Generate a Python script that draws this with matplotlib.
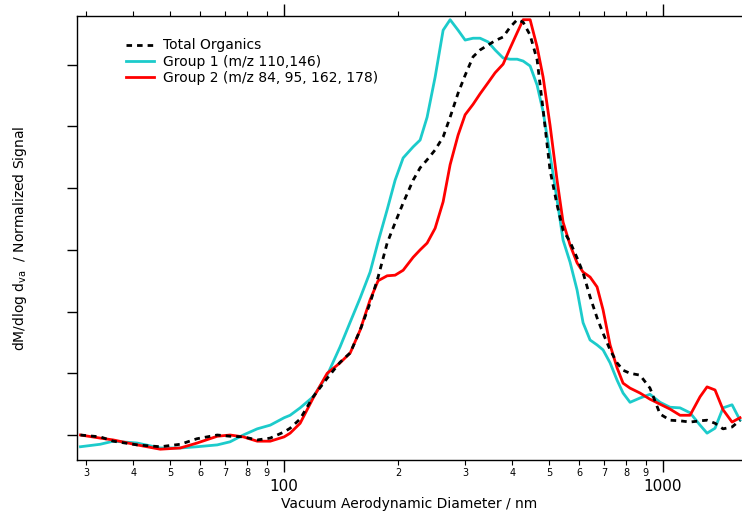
import numpy as np
import matplotlib
matplotlib.use('Agg')
import matplotlib.pyplot as plt
from matplotlib.ticker import LogLocator, FuncFormatter, NullFormatter


# Vacuum aerodynamic diameter bins (nm)
diameter = [29.0, 32.7, 35.4, 40.9, 47.1, 53.2, 58.9, 66.6, 72.0, 78.0,
            84.9, 91.9, 100.0, 103.7, 110.2, 119.3, 129.9, 140.5, 149.4, 158.7,
            168.6, 177.0, 187.0, 196.3, 206.1, 219.0, 228.5, 238.4, 250.3, 262.8,
            274.2, 287.8, 300.4, 315.3, 329.0, 345.4, 360.4, 378.4, 394.9, 412.1,
            427.4, 445.9, 465.2, 482.5, 503.3, 525.2, 544.7, 568.4, 593.1, 615.1,
            641.8, 669.7, 694.5, 724.8, 756.2, 784.4, 818.3, 869.6, 923.9, 982.0,
            1043.5, 1108.9, 1178.5, 1252.4, 1306.8, 1371.8, 1440.1, 1521.1, 1597.0]

# Normalized signals
total_org = [0.00, -0.03, -0.10, -0.16, -0.19, -0.15, -0.06, 0.00, -0.02, -0.03,
             -0.08, -0.05, 0.05, 0.11, 0.26, 0.62, 0.92, 1.18, 1.33, 1.70,
             2.14, 2.56, 3.11, 3.44, 3.76, 4.13, 4.33, 4.46, 4.62, 4.83,
             5.15, 5.54, 5.83, 6.13, 6.24, 6.32, 6.39, 6.45, 6.61, 6.73,
             6.69, 6.48, 6.08, 5.27, 4.29, 3.73, 3.32, 3.13, 2.87, 2.63,
             2.24, 1.90, 1.65, 1.38, 1.17, 1.05, 1.00, 0.97, 0.76, 0.34,
             0.24, 0.23, 0.21, 0.23, 0.24, 0.19, 0.10, 0.13, 0.24]

group1 = [-0.19, -0.15, -0.10, -0.13, -0.21, -0.21, -0.19, -0.16, -0.11, 0.00,
          0.10, 0.16, 0.28, 0.32, 0.44, 0.62, 0.97, 1.43, 1.83, 2.22,
          2.64, 3.13, 3.65, 4.13, 4.49, 4.67, 4.78, 5.15, 5.80, 6.56,
          6.73, 6.56, 6.40, 6.43, 6.43, 6.37, 6.24, 6.11, 6.09, 6.09,
          6.06, 5.98, 5.67, 5.24, 4.54, 3.81, 3.16, 2.80, 2.35, 1.82,
          1.54, 1.46, 1.38, 1.17, 0.89, 0.68, 0.53, 0.60, 0.66, 0.53,
          0.45, 0.44, 0.36, 0.16, 0.03, 0.11, 0.44, 0.49, 0.24]

group2 = [0.00, -0.05, -0.08, -0.16, -0.23, -0.21, -0.13, -0.02, 0.00, -0.03,
          -0.10, -0.10, -0.03, 0.03, 0.19, 0.60, 1.00, 1.17, 1.33, 1.70,
          2.19, 2.50, 2.58, 2.59, 2.67, 2.88, 3.00, 3.11, 3.35, 3.78,
          4.38, 4.86, 5.19, 5.36, 5.53, 5.71, 5.87, 6.01, 6.27, 6.52,
          6.73, 6.73, 6.29, 5.80, 5.02, 4.13, 3.45, 3.08, 2.79, 2.64,
          2.56, 2.40, 2.03, 1.46, 1.09, 0.84, 0.76, 0.68, 0.58, 0.50,
          0.42, 0.32, 0.32, 0.62, 0.78, 0.73, 0.41, 0.21, 0.28]

fig = plt.figure(figsize=(7.42, 5.13), dpi=100)
ax = fig.add_axes([0.1038, 0.1033, 0.8962, 0.8655])

ax.plot(diameter, total_org, color='black', lw=2, dashes=(2, 1.8),
        label='Total Organics', zorder=3)
ax.plot(diameter, group1, color='#1ccbcb', lw=2, label='Group 1 (m/z 110,146)')
ax.plot(diameter, group2, color='#ff0000', lw=2,
        label='Group 2 (m/z 84, 95, 162, 178)')

ax.set_xscale('log')
ax.set_xlim(28.4, 1616)
ax.set_ylim(-0.405, 6.79)

# x ticks: big decade labels, small digit labels on minor ticks
ax.xaxis.set_major_locator(LogLocator(base=10, subs=(1.0,)))
ax.xaxis.set_minor_locator(LogLocator(base=10, subs=np.arange(2, 10)))
ax.xaxis.set_major_formatter(FuncFormatter(lambda v, p: '%d' % round(v)))
ax.xaxis.set_minor_formatter(
    FuncFormatter(lambda v, p: '%d' % round(v / 10 ** np.floor(np.log10(v) + 1e-9))))
ax.tick_params(axis='x', which='major', direction='out', length=8.5, width=1,
               top=True, labelsize=11, pad=5)
ax.tick_params(axis='x', which='minor', direction='out', length=3.6, width=0.8,
               top=True, labelsize=7, pad=2)

ax.set_yticks(np.arange(0, 7))
ax.yaxis.set_major_formatter(NullFormatter())
ax.tick_params(axis='y', direction='out', length=7, width=1)

ax.spines['right'].set_visible(False)
for s in ['left', 'bottom', 'top']:
    ax.spines[s].set_linewidth(1)

ax.set_xlabel('Vacuum Aerodynamic Diameter / nm', fontsize=10, labelpad=2)
ax.set_ylabel(r'dM/dlog d$_{\mathregular{va}}$  / Normalized Signal', fontsize=10,
              labelpad=24)

ax.legend(loc='upper left', bbox_to_anchor=(0.066, 0.962), frameon=False,
          fontsize=10, handlelength=2.0, handletextpad=0.6, labelspacing=0.15,
          borderaxespad=0)

fig.savefig('out.png', dpi=100)
